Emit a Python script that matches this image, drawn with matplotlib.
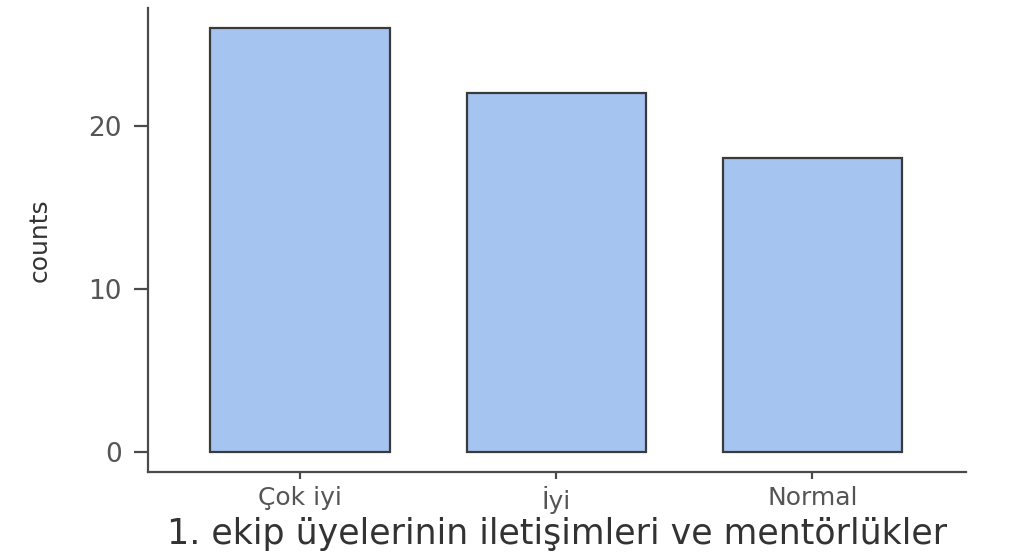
import matplotlib
matplotlib.use("Agg")
import matplotlib.pyplot as plt

categories = ["Çok iyi", "İyi", "Normal"]
counts = [26, 22, 18]
yticks = [0, 10, 20]
xlabel = "1. ekip üyelerinin iletişimleri ve mentörlükler"
ylabel = "counts"

plt.rcParams['font.family'] = ['DejaVu Sans']

fig = plt.figure(figsize=(10.14, 5.58), dpi=100)
ax = fig.add_axes([148/1014, (558-472)/558, (966-148)/1014, (472-8)/558])

x = list(range(len(categories)))
ax.bar(x, counts, width=0.70, color="#a5c4f0", edgecolor="#3a3a3a", linewidth=1.6, zorder=2)

ax.set_xlim(-0.594, 2.60)
ax.set_ylim(-1.23, 27.2)
ax.set_xticks(x)
ax.set_xticklabels(categories)
ax.set_yticks(yticks)

for s in ["top", "right"]:
    ax.spines[s].set_visible(False)
for s in ["left", "bottom"]:
    ax.spines[s].set_color("#4a4a4a")
    ax.spines[s].set_linewidth(1.6)

ax.tick_params(axis="y", length=10, width=1.6, color="#4a4a4a", labelsize=19, labelcolor="#555555", pad=9)
ax.tick_params(axis="x", length=5, width=1.6, color="#4a4a4a", labelsize=18, labelcolor="#555555", pad=5)

ax.set_xlabel(xlabel, fontsize=25, color="#333333", labelpad=2)
ax.set_ylabel(ylabel, fontsize=18, color="#333333", labelpad=26)

fig.savefig("out.png", dpi=100)
